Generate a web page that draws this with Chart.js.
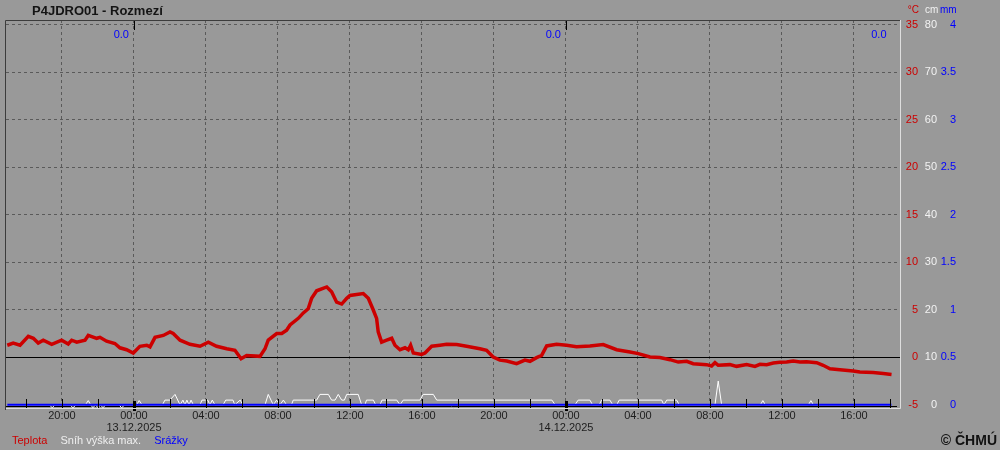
<!DOCTYPE html>
<html lang="cs">
<head>
<meta charset="UTF-8">
<title>P4JDRO01 - Rozmezí</title>
<style>
  body { margin: 0; background: #999; }
  #wrap { width: 1000px; height: 450px; }
  canvas { background: #999; }
</style>
<script src="https://cdn.jsdelivr.net/npm/chart.js"></script>
</head>
<body>
<div id="wrap"><canvas id="chart" width="1000" height="450"></canvas></div>
<script>
// x values = hours from 13.12.2025 00:00
const tempHours = [-7.04, -6.71, -6.33, -5.87, -5.59, -5.32, -5.04, -4.57, -4.02, -3.65, -3.46, -3.18,
  -2.72, -2.54, -2.07, -1.89, -1.52, -1.06, -0.78, -0.41, -0.04, 0.33, 0.71, 0.89, 1.17, 1.63, 2.0,
  2.18, 2.56, 3.11, 3.67, 4.13, 4.59, 5.15, 5.61, 5.95, 6.26, 7.0, 7.28, 7.46, 7.93, 8.21, 8.48, 8.67,
  9.13, 9.41, 9.68, 9.87, 10.15, 10.71, 10.98, 11.26, 11.54, 11.82, 12.0, 12.37, 12.74, 13.02, 13.29,
  13.48, 13.57, 13.76, 14.04, 14.32, 14.5, 14.78, 15.06, 15.24, 15.37, 15.52, 15.98, 16.17, 16.54, 17.0,
  17.37, 17.93, 18.48, 19.22, 19.59, 19.96, 20.33, 20.71, 21.26, 21.72, 22.0, 22.37, 22.65, 22.93, 23.48,
  24.04, 24.59, 25.33, 26.07, 26.82, 27.56, 28.02, 28.67, 29.22, 29.78, 30.24, 30.71, 31.07, 31.82, 32.09,
  32.28, 32.46, 33.11, 33.48, 34.04, 34.5, 34.78, 35.15, 35.52, 35.89, 36.26, 36.63, 37.0, 37.37, 37.93,
  38.29, 38.67, 39.22, 39.96, 40.33, 41.07, 41.63, 42.09];
const tempC = [1.27, 1.5, 1.27, 2.2, 2.0, 1.5, 1.8, 1.37, 1.8, 1.4, 1.8, 1.6,
  1.8, 2.3, 2.0, 2.1, 1.7, 1.45, 1.0, 0.8, 0.45, 1.15, 1.27, 1.1, 2.1, 2.3, 2.67,
  2.5, 1.8, 1.37, 1.16, 1.6, 1.16, 0.9, 0.74, -0.15, 0.2, 0.1, 0.9, 1.8, 2.5, 2.5, 2.85, 3.4,
  4.1, 4.67, 5.1, 6.2, 7.0, 7.4, 6.9, 5.8, 5.6, 6.2, 6.5, 6.6, 6.7, 6.2, 5.0,
  4.1, 2.67, 1.6, 1.8, 2.0, 1.27, 0.8, 1.0, 0.8, 1.27, 0.45, 0.3, 0.45, 1.16, 1.27,
  1.37, 1.34, 1.16, 0.9, 0.74, 0.03, -0.3, -0.39, -0.67, -0.3, -0.42, -0.03, 0.2, 1.2, 1.37,
  1.27, 1.1, 1.2, 1.34, 0.8, 0.56, 0.39, 0.03, -0.03, -0.25, -0.5, -0.42, -0.67, -0.77, -0.91,
  -0.56, -0.84, -0.77, -0.95, -0.77, -0.95, -0.74, -0.77, -0.6, -0.53, -0.5, -0.39, -0.5, -0.46, -0.56,
  -0.84, -1.2, -1.3, -1.44, -1.55, -1.6, -1.7, -1.8];

const snowHours = [-7.04, -4.7, -4.54, -4.4, -3.55, -3.39, -3.22, -2.7, -2.54, -2.4, -2.28, -2.14, -2.0,
  -1.86, -1.72, -1.58, -0.84, -0.68, -0.52, 0.15, 0.29, 0.45, 1.58, 1.72, 2.0, 2.28, 2.56, 2.72, 2.83,
  2.94, 3.06, 3.17, 3.3, 3.67, 3.78, 4.1, 4.22, 4.35, 4.5, 4.95, 5.1, 5.5, 5.6, 5.9, 6.05, 7.28, 7.46,
  7.74, 7.93, 8.11, 8.3, 8.48, 8.75, 8.85, 10.15, 10.33, 10.8, 10.98, 11.17, 11.35, 11.54, 11.69, 11.82,
  12.46, 12.65, 12.83, 12.92, 13.3, 13.43, 13.67, 13.78, 14.6, 14.78, 14.96, 15.89, 16.07, 16.63, 16.82,
  23.22, 23.4, 24.5, 24.68, 25.33, 25.48, 25.85, 25.98, 26.44, 26.6, 26.82, 26.96, 29.32, 29.44, 29.6,
  30.15, 30.3, 32.28, 32.46, 32.65, 34.8, 34.94, 35.08, 37.47, 37.61, 37.75, 42.09];
const snowCm = [0, 0, -0.6, 0, 0, -0.6, 0, 0, 0.9, 0, -0.6, 0, -0.6,
  0, -0.6, 0, 0, -0.6, 0, 0, 0.9, 0, 0, 1, 1, 2.2, 0, 1, 0,
  1, 0, 1, 0, 0, 1, 1, 0, 1, 0, 0, 1, 1, 0, 1, 0, 0, 2.2,
  0, 1, 0, 1, 0, 0, 1, 1, 2.2, 2.2, 1, 1, 2.2, 1, 1, 2.2,
  2.2, 0, 0, 1, 1, 0, 0, 1, 1, 0, 1, 1, 2.2, 2.2, 1,
  1, 0, 0, 1, 1, 0, 0, 1, 1, 0, 0, 1, 1, 0, 1,
  1, 0, 0, 5, 0, 0, 0.9, 0, 0, 0.9, 0, 0];

const rainHours = [-7.04, 0, 12, 24, 36, 42.09];
const rainMm = [0, 0, 0, 0, 0, 0];

// daily precipitation sums shown at the top
const sumHours = [0, 24, 42.09];
const sumMm = [0.0, 0.0, 0.0];

const timeTicks = [-6, -4, -2, 0, 2, 4, 6, 8, 10, 12, 14, 16, 18, 20, 22, 24, 26, 28, 30, 32, 34, 36, 38, 40, 42];
const dayTicks = [0, 24];
const dayNames = ['13.12.2025', '14.12.2025'];
const tempTicks = [-5, 0, 5, 10, 15, 20, 25, 30, 35];
const snowTicks = [0, 10, 20, 30, 40, 50, 60, 70, 80];
const rainTicks = [0, 0.5, 1, 1.5, 2, 2.5, 3, 3.5, 4];

const FONT = 'Arial, "Liberation Sans", sans-serif';
const RED = '#cc0000', BLUE = '#0000ff', WHITE = '#ffffff';
const GRID = '#5a5a5a';

function toXY(xs, ys) {
  return xs.map((x, i) => ({ x: x, y: ys[i] }));
}

// labels are right-aligned on the right edge of each axis box
function rightAxis(weight, min, max, ticks, width, color) {
  return {
    type: 'linear', position: 'right', weight: weight, min: min, max: max,
    afterBuildTicks: s => { s.ticks = ticks.map(v => ({ value: v })); },
    afterFit: s => { s.width = width; },
    grid: { display: false, drawTicks: false },
    border: { display: false },
    ticks: { crossAlign: 'far', padding: 0, color: color, font: { family: FONT, size: 11 }, callback: v => String(v) }
  };
}

const yT = rightAxis(0, -5.33, 35.47, tempTicks, 18, RED);
yT.grid = {
  display: true, drawTicks: false, lineWidth: 1,
  color: c => (c.tick && c.tick.value > 0) ? GRID : 'rgba(0,0,0,0)'
};
yT.border = { display: false, dash: [3, 3] };

const framePlugin = {
  id: 'frame',
  beforeDatasetsDraw(chart) {
    const { ctx, chartArea: a, scales } = chart;
    ctx.save();
    ctx.strokeStyle = '#000';
    ctx.lineWidth = 1;
    const y0 = Math.round(scales.yT.getPixelForValue(0)) + 0.5;
    ctx.beginPath(); ctx.moveTo(a.left, y0); ctx.lineTo(a.right, y0); ctx.stroke();
    const yb = Math.round(scales.yT.getPixelForValue(-5)) + 1.5;
    ctx.beginPath(); ctx.moveTo(a.left, yb); ctx.lineTo(a.right - 3, yb); ctx.stroke();
    ctx.restore();
  },
  afterDatasetsDraw(chart) {
    const { ctx, chartArea: a, scales } = chart;
    const x = scales.x;
    ctx.save();
    ctx.fillStyle = '#000';
    x.ticks.forEach(t => {
      const px = Math.round(x.getPixelForValue(t.value));
      if (dayTicks.includes(t.value)) {
        ctx.fillRect(px - 1, a.bottom - 7, 3, 10);
        ctx.fillRect(px, a.top, 1, 10);
      } else {
        ctx.fillRect(px, a.bottom - 9, 1, 10);
      }
    });
    // frame: dark left/top, light right/bottom
    ctx.lineWidth = 1;
    ctx.strokeStyle = '#3c3c3c';
    ctx.beginPath();
    ctx.moveTo(a.left - 0.5, a.bottom + 2); ctx.lineTo(a.left - 0.5, a.top + 0.5); ctx.lineTo(a.right, a.top + 0.5);
    ctx.stroke();
    ctx.strokeStyle = '#dedede';
    ctx.beginPath();
    ctx.moveTo(a.right + 0.5, a.top); ctx.lineTo(a.right + 0.5, a.bottom + 0.5); ctx.lineTo(a.left, a.bottom + 0.5);
    ctx.stroke();
    ctx.restore();
  },
  afterDraw(chart) {
    const { ctx, chartArea: a, scales } = chart;
    ctx.save();
    ctx.textBaseline = 'middle';
    // title
    ctx.font = 'bold 13px ' + FONT;
    ctx.fillStyle = '#141414';
    ctx.textAlign = 'left';
    ctx.fillText('P4JDRO01 - Rozmezí', 32, 11.5);
    // units header
    ctx.font = '10px ' + FONT;
    ctx.textAlign = 'right';
    ctx.fillStyle = RED;
    ctx.fillText('°C', scales.yT.right + 1, 10.5);
    ctx.textAlign = 'left';
    ctx.fillStyle = '#f2f2f2';
    ctx.fillText('cm', scales.yS.left + 7, 10.5);
    ctx.fillStyle = BLUE;
    ctx.fillText('mm', scales.yR.left + 3, 10.5);
    // daily sums
    ctx.font = '11px ' + FONT;
    ctx.textAlign = 'right';
    sumHours.forEach((h, i) => {
      ctx.fillText(sumMm[i].toFixed(1), scales.x.getPixelForValue(h) - 5, a.top + 15);
    });
    // legend
    ctx.textAlign = 'left';
    let lx = 12;
    [0, 2, 1].forEach(i => {
      const ds = chart.data.datasets[i];
      ctx.fillStyle = ds.borderColor === WHITE ? '#eeeeee' : ds.borderColor;
      ctx.fillText(ds.label, lx, 441);
      lx += ctx.measureText(ds.label).width + 13;
    });
    // copyright
    ctx.font = 'bold 14px ' + FONT;
    ctx.fillStyle = '#111';
    ctx.textAlign = 'right';
    ctx.fillText('© ČHMÚ', 997, 441);
    ctx.restore();
  }
};

new Chart(document.getElementById('chart'), {
  type: 'line',
  data: {
    datasets: [
      { label: 'Teplota', data: toXY(tempHours, tempC), yAxisID: 'yT', borderColor: RED, borderWidth: 3.5, pointRadius: 0, tension: 0 },
      { label: 'Srážky', data: toXY(rainHours, rainMm), yAxisID: 'yR', borderColor: BLUE, borderWidth: 2, pointRadius: 0 },
      { label: 'Sníh výška max.', data: toXY(snowHours, snowCm), yAxisID: 'yS', borderColor: WHITE, borderWidth: 1, pointRadius: 0 }
    ]
  },
  options: {
    responsive: false,
    animation: false,
    layout: { padding: { left: 6, top: 20, right: 44, bottom: 0 } },
    plugins: { legend: { display: false }, tooltip: { enabled: false } },
    scales: {
      x: {
        type: 'linear', min: -7.11, max: 42.56,
        afterBuildTicks: s => { s.ticks = timeTicks.map(v => ({ value: v })); },
        afterFit: s => { s.height = 42; },
        grid: { drawTicks: false, lineWidth: 1, color: c => (c.tick && c.tick.value % 4 === 0) ? GRID : 'rgba(0,0,0,0)' },
        border: { display: false, dash: [3, 3] },
        ticks: {
          autoSkip: false, maxRotation: 0, padding: 2, color: '#1e1e1e',
          font: { family: FONT, size: 11, lineHeight: 1.1 },
          callback: v => {
            const hr = ((v % 24) + 24) % 24;
            if (hr % 4 !== 0) return '';
            const t = String(hr).padStart(2, '0') + ':00';
            const d = dayTicks.indexOf(v);
            return d >= 0 ? [t, dayNames[d]] : t;
          }
        }
      },
      yT: yT,
      yS: rightAxis(1, -0.66, 80.94, snowTicks, 19, '#f2f2f2'),
      yR: rightAxis(2, -0.033, 4.047, rainTicks, 19, BLUE)
    }
  },
  plugins: [framePlugin]
});
</script>
</body>
</html>
